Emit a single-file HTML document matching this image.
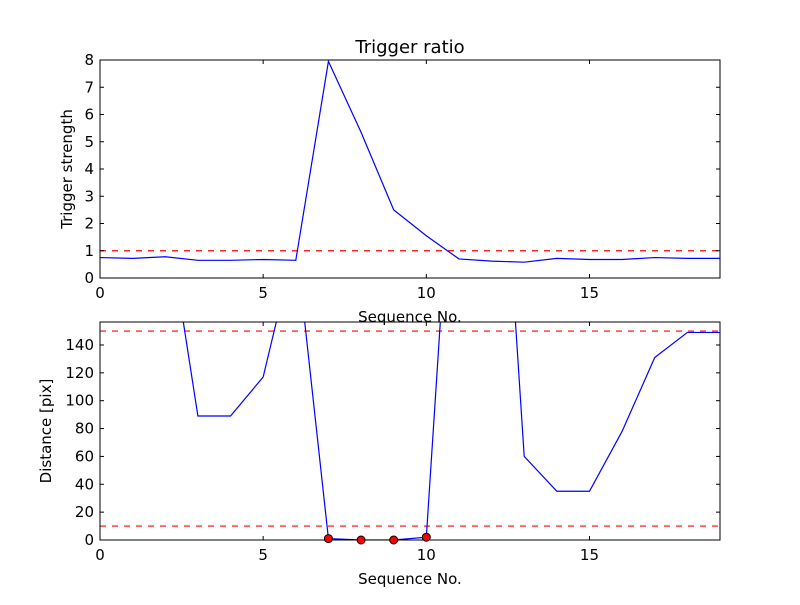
<!DOCTYPE html>
<html><head><meta charset="utf-8"><style>
body{margin:0;background:#fff}
svg text{font-family:"DejaVu Sans","Liberation Sans",sans-serif;fill:#000}
</style></head><body>
<svg id="c" width="800" height="600"></svg>
<script>
const seqX=[0,1,2,3,4,5,6,7,8,9,10,11,12,13,14,15,16,17,18,19];
const trigger=[0.75,0.72,0.78,0.65,0.65,0.68,0.65,7.95,5.35,2.5,1.55,0.7,0.62,0.58,0.72,0.68,0.68,0.75,0.72,0.72];
const distance=[240,240,240,89,89,117,215,1,0,0,2,362,419,60,35,35,78,131,149,149];
const markedIdx=[7,8,9,10];
const xTicks=[0,5,10,15];
const topYTicks=[0,1,2,3,4,5,6,7,8];
const botYTicks=[0,20,40,60,80,100,120,140];
const trigThresh=[1.0];
const distThresh=[10,150];

const NS="http://www.w3.org/2000/svg";
const svg=document.getElementById('c');
function mk(t,a,p){const e=document.createElementNS(NS,t);for(const k in a)e.setAttribute(k,a[k]);(p||svg).appendChild(e);return e;}
const L=100,R=720;
const xs=v=>L+(v-0)/(19-0)*(R-L);
function panel(top,bot,ymax,yTicks,data,thr,name,ylabel,title,clipId){
  const ys=v=>bot-(v/ymax)*(bot-top);
  const g=mk('g',{});
  
  
  const cp=mk('clipPath',{id:clipId},g);mk('rect',{x:L,y:top,width:R-L,height:bot-top},cp);
  thr.forEach(t=>{const l=mk('line',{x1:L,x2:R,y1:ys(t),y2:ys(t),stroke:'#f00','stroke-width':1.2,'stroke-dasharray':'6,6','clip-path':`url(#${clipId})`},g);
    });
  const p=mk('polyline',{points:data.map((v,i)=>xs(seqX[i])+','+ys(v)).join(' '),fill:'none',stroke:'#00f','stroke-width':1.2,'clip-path':`url(#${clipId})`},g);
  
  mk('rect',{x:L,y:top,width:R-L,height:bot-top,fill:'none',stroke:'#000','stroke-width':1},g);
  xTicks.forEach(t=>{const x=xs(t);mk('line',{x1:x,x2:x,y1:bot,y2:bot-4,stroke:'#000'},g);mk('line',{x1:x,x2:x,y1:top,y2:top+4,stroke:'#000'},g);
    const tx=mk('text',{x:x,y:bot+20,'text-anchor':'middle','font-size':15},g);tx.textContent=t;
    });
  yTicks.forEach(t=>{const y=ys(t);mk('line',{x1:L,x2:L+4,y1:y,y2:y,stroke:'#000'},g);mk('line',{x1:R,x2:R-4,y1:y,y2:y,stroke:'#000'},g);
    const tx=mk('text',{x:L-6,y:y+5,'text-anchor':'end','font-size':15},g);tx.textContent=t;
    });
  const xl=mk('text',{x:(L+R)/2,y:bot+44,'text-anchor':'middle','font-size':15},g);xl.textContent='Sequence No.';
  
  const yl=mk('text',{x:0,y:0,'text-anchor':'middle','font-size':15,transform:`translate(${ylabel[1]},${(top+bot)/2}) rotate(-90)`},g);yl.textContent=ylabel[0];
  
  if(title){const tt=mk('text',{x:(L+R)/2,y:top-7,'text-anchor':'middle','font-size':18},g);tt.textContent=title;
    }
  return ys;
}
panel(60,278,8,topYTicks,trigger,trigThresh,'trigger-panel',['Trigger strength',72],'Trigger ratio','cp1');
const ys2=panel(322,540,156.5,botYTicks,distance,distThresh,'distance-panel',['Distance [pix]',51],null,'cp2');
markedIdx.forEach(i=>{const c=mk('circle',{cx:xs(seqX[i]),cy:ys2(distance[i]),r:4,fill:'#f00',stroke:'#000','stroke-width':1});
  });
</script>
</body></html>
